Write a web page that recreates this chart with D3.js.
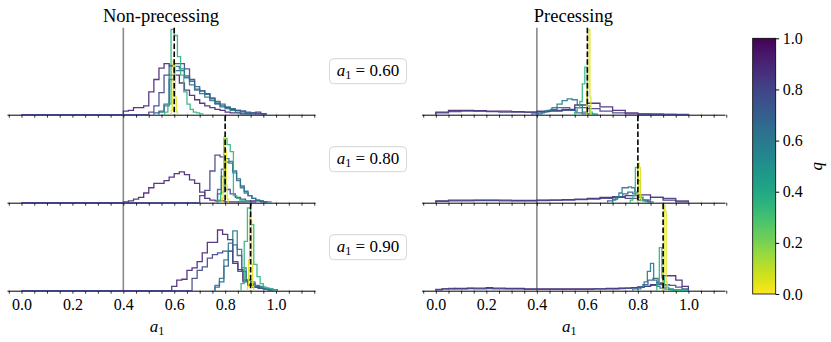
<!DOCTYPE html>
<html><head><meta charset="utf-8">
<script src="https://cdn.jsdelivr.net/npm/d3@7"></script>
<style>body{margin:0;background:#fff} svg{display:block}</style>
</head><body><svg id="c" width="831" height="342"></svg>
<script>
// ---------------- data ----------------
const panelTitles = ["Non-precessing", "Precessing"];
const truths = [0.60, 0.80, 0.90];
const truthLabels = ["0.60", "0.80", "0.90"];
const priorEdge = 0.4;
const xTickLabels = [0.0, 0.2, 0.4, 0.6, 0.8, 1.0];
const cbTickLabels = [0.0, 0.2, 0.4, 0.6, 0.8, 1.0];
// each series: [q, histogram lower edge, first populated bin, bin width, normalised heights]
const nonPrec060 = [
  [0.9, 0.0, 0.40, 0.02, [0.04,0.05,0.08,0.08,0.10,0.26,0.40,0.53,0.58,0.56,0.45,0.36,0.28,0.22,0.17,0.13,0.10,0.08,0.06,0.05,0.03,0.02,0.02,0.01,0.01,0.01,0.03,0.01]],
  [0.8, 0.0, 0.50, 0.02, [0.03,0.10,0.25,0.45,0.55,0.58,0.58,0.52,0.40,0.29,0.27,0.24,0.18,0.13,0.10,0.08,0.06,0.05,0.04,0.02,0.02,0.01,0.01]],
  [0.7, 0.52, 0.52, 0.02, [0.02,0.04,0.12,0.40,0.50,0.50,0.44,0.38,0.32,0.27,0.23,0.19,0.15,0.12,0.09,0.07,0.05,0.04,0.03,0.02,0.01,0.01]],
  [0.6, 0.54, 0.54, 0.02, [0.03,0.10,0.45,0.55,0.52,0.42,0.34,0.28,0.24,0.20,0.16,0.12,0.09,0.07,0.05,0.03,0.02,0.01]],
  [0.35, 0.5625, 0.5625, 0.0125, [0.03,0.12,0.97,0.90,0.66,0.45,0.26,0.12,0.06,0.03,0.02,0.01]],
  [0.05, 0.588, 0.588, 0.004, [0.05,0.25,0.62,0.55,0.20,0.04]]
];
const nonPrec080 = [
  [0.9, 0.0, 0.40, 0.02, [0.01,0.02,0.04,0.06,0.11,0.17,0.22,0.22,0.25,0.29,0.33,0.35,0.32,0.26,0.22,0.12,0.05,0.03,0.02,0.02,0.01,0.01,0.01,0.01,0.01,0.02,0.02,0.01]],
  [0.8, 0.0, 0.70, 0.02, [0.08,0.14,0.36,0.54,0.52,0.15,0.10,0.06,0.04,0.02,0.01]],
  [0.7, 0.77, 0.77, 0.015, [0.10,0.30,0.46,0.45,0.36,0.27,0.19,0.13,0.08,0.05,0.03,0.02,0.01]],
  [0.6, 0.77, 0.77, 0.015, [0.15,0.38,0.50,0.47,0.34,0.25,0.17,0.11,0.08,0.05,0.03,0.02,0.01,0.01]],
  [0.35, 0.77, 0.77, 0.0125, [0.03,0.12,0.73,0.66,0.58,0.08,0.05,0.03,0.02,0.01]],
  [0.05, 0.788, 0.788, 0.004, [0.05,0.30,0.75,0.60,0.20,0.04]]
];
const nonPrec090 = [
  [0.9, 0.0, 0.59, 0.02, [0.05,0.12,0.13,0.23,0.26,0.33,0.43,0.55,0.55,0.69,0.64,0.58,0.31,0.24,0.10,0.06,0.04,0.03,0.02,0.01]],
  [0.8, 0.0, 0.67, 0.02, [0.14,0.23,0.27,0.37,0.41,0.43,0.45,0.45,0.33,0.22,0.12,0.07,0.04,0.03,0.02,0.01]],
  [0.7, 0.76, 0.76, 0.0175, [0.04,0.10,0.28,0.45,0.52,0.40,0.22,0.12,0.08,0.05,0.03,0.02,0.01,0.01]],
  [0.6, 0.76, 0.76, 0.0175, [0.06,0.14,0.35,0.54,0.68,0.47,0.26,0.12,0.10,0.06,0.05,0.03,0.02,0.01]],
  [0.35, 0.8625, 0.8625, 0.0125, [0.08,0.56,0.94,0.75,0.30,0.16,0.08,0.04,0.03,0.02,0.01]],
  [0.05, 0.888, 0.888, 0.004, [0.05,0.35,0.85,0.80,0.30,0.05]]
];
const prec060 = [
  [0.9, 0.0, 0.0, 0.05, [0.03,0.05,0.05,0.045,0.04,0.04,0.035,0.03,0.035,0.04,0.06,0.11,0.13,0.09,0.05,0.02,0.01,0.005,0.003,0.002]],
  [0.8, 0.0, 0.0, 0.05, [0.02,0.035,0.04,0.04,0.035,0.03,0.03,0.03,0.04,0.05,0.05,0.08,0.07,0.04,0.02,0.01,0.005,0.005,0.003,0.0]],
  [0.7, 0.38, 0.38, 0.025, [0.01,0.02,0.04,0.06,0.08,0.08,0.05,0.02,0.01]],
  [0.6, 0.40, 0.40, 0.02, [0.01,0.03,0.05,0.08,0.12,0.16,0.18,0.17,0.11,0.03,0.01,0.005]],
  [0.35, 0.55, 0.55, 0.01, [0.03,0.08,0.15,0.35,0.54,0.10,0.03,0.01]],
  [0.05, 0.598, 0.598, 0.004, [0.30,0.97,0.97,0.20]]
];
const prec080 = [
  [0.9, 0.0, 0.0, 0.05, [0.02,0.03,0.03,0.03,0.03,0.03,0.025,0.025,0.03,0.03,0.035,0.04,0.05,0.06,0.07,0.08,0.09,0.06,0.03,0.01]],
  [0.8, 0.0, 0.0, 0.05, [0.015,0.02,0.02,0.025,0.025,0.02,0.02,0.02,0.025,0.03,0.03,0.035,0.04,0.05,0.06,0.05,0.03,0.06,0.05,0.02]],
  [0.7, 0.68, 0.68, 0.02, [0.02,0.04,0.07,0.10,0.12,0.10,0.06,0.03,0.01]],
  [0.6, 0.70, 0.70, 0.0125, [0.03,0.07,0.11,0.17,0.17,0.18,0.17,0.12,0.06,0.03,0.02,0.01]],
  [0.35, 0.77, 0.77, 0.01, [0.03,0.08,0.40,0.25,0.06,0.02]],
  [0.05, 0.798, 0.798, 0.004, [0.10,0.45,0.40,0.05]]
];
const prec090 = [
  [0.9, 0.0, 0.0, 0.025, [0.01,0.02,0.02,0.025,0.025,0.03,0.03,0.03,0.035,0.03,0.03,0.025,0.025,0.025,0.02,0.02,0.02,0.02,0.02,0.02,0.02,0.02,0.02,0.02,0.02,0.02,0.02,0.025,0.025,0.03,0.03,0.035,0.04,0.05,0.07,0.09,0.17,0.17,0.12,0.05]],
  [0.8, 0.0, 0.0, 0.025, [0.015,0.02,0.025,0.02,0.02,0.025,0.02,0.02,0.025,0.02,0.02,0.02,0.02,0.02,0.015,0.015,0.015,0.015,0.015,0.015,0.015,0.015,0.015,0.015,0.015,0.02,0.02,0.02,0.02,0.025,0.03,0.035,0.04,0.05,0.06,0.07,0.07,0.06,0.04,0.02]],
  [0.7, 0.78, 0.78, 0.02, [0.02,0.04,0.07,0.12,0.14,0.08,0.04,0.02,0.01,0.005,0.005]],
  [0.6, 0.80, 0.80, 0.0125, [0.02,0.04,0.10,0.22,0.31,0.12,0.05,0.03,0.02,0.015,0.01,0.005,0.005,0.005,0.005,0.005]],
  [0.35, 0.875, 0.875, 0.01, [0.08,0.49,0.15,0.06,0.03,0.02,0.01,0.01,0.005,0.005,0.005,0.005]],
  [0.05, 0.900, 0.900, 0.004, [0.20,0.97,0.90,0.10]]
];
const panelData = [[nonPrec060, nonPrec080, nonPrec090], [prec060, prec080, prec090]];

// ---------------- layout ----------------
const svg = d3.select("#c");
const FONT = "'Liberation Serif', 'DejaVu Serif', serif";
const rowTop = 26.7, rowH = 88;
const panels = [
  {domain: [-0.057, 1.153], range: [7, 315]},
  {domain: [-0.056, 1.145], range: [421.7, 725]}
];
const color = q => d3.interpolateViridis(1 - q);
const tickVals = d3.range(-1, 24).map(i => +(i * 0.05).toFixed(2));

panels.forEach((p, pi) => {
  const x = d3.scaleLinear().domain(p.domain).range(p.range);
  const g = svg.append("g");
  g.append("text").attr("x", (p.range[0] + p.range[1]) / 2).attr("y", 22)
    .attr("text-anchor", "middle").attr("font-family", FONT).attr("font-size", 18.5)
    .text(panelTitles[pi]);

  // prior edge
  g.append("line").attr("x1", x(priorEdge)).attr("x2", x(priorEdge))
    .attr("y1", rowTop + 1).attr("y2", rowTop + 3 * rowH)
    .attr("stroke", "#8a8a8a").attr("stroke-width", 1.6);

  panelData[pi].forEach((rowSeries, ri) => {
    const y0 = rowTop + ri * rowH;
    const y = d3.scaleLinear().domain([0, 1]).range([y0 + rowH, y0]);
    const rg = g.append("g");
    // axis first
    const ax = d3.axisBottom(x).tickValues(tickVals).tickSize(3).tickSizeOuter(0).tickPadding(5)
      .tickFormat(d => (ri === 2 && xTickLabels.some(t => Math.abs(t - d) < 1e-6)) ? d.toFixed(1) : "");
    const axg = rg.append("g").attr("transform", `translate(0,${y0 + rowH})`).call(ax);
    axg.select(".domain").attr("stroke", "#000").attr("stroke-width", 1);
    axg.selectAll(".tick line").attr("stroke", "#000").attr("stroke-width", 0.8);
    axg.selectAll("text").attr("font-family", FONT).attr("font-size", 16).attr("fill", "#000");
    // histograms
    const line = d3.line().x(d => x(d[0])).y(d => y(d[1]));
    rowSeries.forEach(([q, lo, start, w, h]) => {
      const pts = [[lo, 0], [start, 0]];
      h.forEach((v, i) => { pts.push([start + i * w, v]); pts.push([start + (i + 1) * w, v]); });
      pts.push([start + h.length * w, 0]);
      rg.append("path").attr("d", line(pts)).attr("fill", "none")
        .attr("stroke", color(q)).attr("stroke-width", 1.3).attr("stroke-opacity", 0.9);
    });
    // truth dashed line
    rg.append("line").attr("x1", x(truths[ri])).attr("x2", x(truths[ri]))
      .attr("y1", y0 + 1).attr("y2", y0 + rowH)
      .attr("stroke", "#000").attr("stroke-width", 1.6).attr("stroke-dasharray", "5.5,2.4");
  });
  const xl = g.append("text").attr("x", (p.range[0] + p.range[1]) / 2 - 4).attr("y", 332)
    .attr("font-family", FONT).attr("font-size", 17).attr("text-anchor", "middle");
  xl.append("tspan").attr("font-style", "italic").text("a");
  xl.append("tspan").attr("font-size", 12).attr("dy", 3).text("1");
});

// row labels
truthLabels.forEach((lab, ri) => {
  const cy = rowTop + ri * rowH + rowH / 2 + 0.5;
  svg.append("rect").attr("x", 329.5).attr("y", cy - 12.5).attr("width", 77).attr("height", 25)
    .attr("rx", 4).attr("fill", "#fff").attr("stroke", "#d6d6d6").attr("stroke-width", 1);
  const t = svg.append("text").attr("x", 368).attr("y", cy + 5).attr("text-anchor", "middle")
    .attr("font-family", FONT).attr("font-size", 17);
  t.append("tspan").attr("font-style", "italic").text("a");
  t.append("tspan").attr("font-size", 12).attr("dy", 3).text("1");
  t.append("tspan").attr("dy", -3).text(" = " + lab);
});

// colorbar
const cb = {x: 752.7, w: 23, y0: 38.3, y1: 294};
const cq = d3.scaleLinear().domain([0, 1]).range([cb.y1, cb.y0]);
const grad = svg.append("defs").append("linearGradient").attr("id", "vir")
  .attr("x1", 0).attr("y1", 1).attr("x2", 0).attr("y2", 0);
d3.range(0, 1.0001, 0.02).forEach(t => grad.append("stop").attr("offset", t).attr("stop-color", color(t)));
svg.append("rect").attr("x", cb.x).attr("y", cb.y0).attr("width", cb.w).attr("height", cb.y1 - cb.y0)
  .attr("fill", "url(#vir)").attr("stroke", "#000").attr("stroke-width", 0.8);
const cax = svg.append("g").attr("transform", `translate(${cb.x + cb.w},0)`)
  .call(d3.axisRight(cq).tickValues(cbTickLabels).tickSize(3.5).tickPadding(3.5).tickFormat(d3.format(".1f")));
cax.select(".domain").remove();
cax.selectAll(".tick line").attr("stroke", "#000");
cax.selectAll("text").attr("font-family", FONT).attr("font-size", 16).attr("fill", "#000");
svg.append("text").attr("transform", `translate(822,${(cb.y0 + cb.y1) / 2}) rotate(-90)`)
  .attr("text-anchor", "middle").attr("font-family", FONT).attr("font-size", 17)
  .attr("font-style", "italic").text("q");
</script></body></html>
